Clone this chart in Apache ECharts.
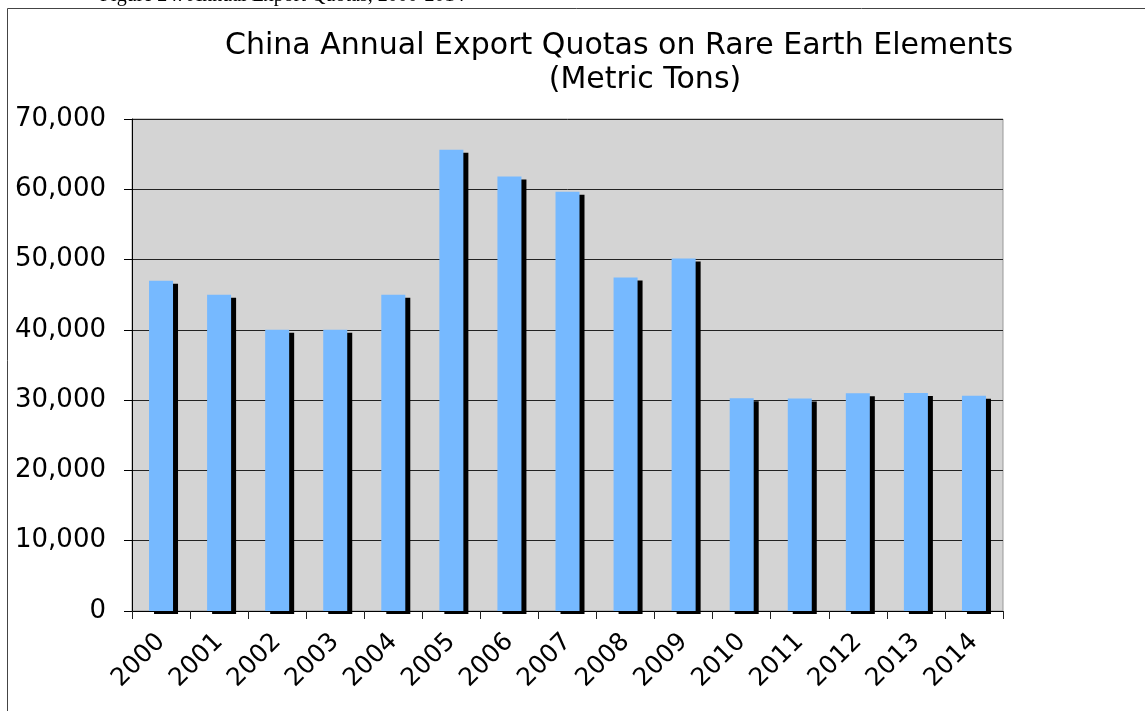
<!DOCTYPE html>
<html lang="en">
<head>
    <meta charset="UTF-8">
    <title>China Annual Export Quotas on Rare Earth Elements</title>
    <script src="https://cdn.jsdelivr.net/npm/echarts@6/dist/echarts.min.js"></script>
</head>
<style>
    html, body {
        margin: 0;
        padding: 0;
        background: #fff;
    }
    #main {
        width: 1145px;
        height: 711px;
    }
</style>
<body>
<div id="main"></div>
<script type="text/javascript">
    // data
    var years = ['2000', '2001', '2002', '2003', '2004', '2005', '2006', '2007',
        '2008', '2009', '2010', '2011', '2012', '2013', '2014'];
    var quotas = [47000, 45000, 40000, 40000, 45000, 65609, 61821, 59643,
        47449, 50145, 30259, 30246, 30996, 30999, 30610];
    var yTicks = [0, 10000, 20000, 30000, 40000, 50000, 60000, 70000];

    var myChart = echarts.init(document.getElementById('main'));

    var option = {
        animation: false,
        textStyle: { fontFamily: 'DejaVu Sans' },
        graphic: [
            // figure caption, cut off at the top of the page
            {
                type: 'text', left: 100, top: -14,
                style: { text: 'Figure 24: Annual Export Quotas, 2000-2014', font: '20px "Liberation Serif"', fill: '#000' }
            },
            // outer frame of the chart
            {
                type: 'rect', shape: { x: 7.5, y: 8.5, width: 1200, height: 800 },
                style: { fill: null, stroke: '#444', lineWidth: 1 }
            },
            {
                type: 'text', x: 619, y: 46,
                style: { text: 'China Annual Export Quotas on Rare Earth Elements', font: '30px "DejaVu Sans"', fill: '#000', align: 'center', verticalAlign: 'middle' }
            },
            {
                type: 'text', x: 645, y: 80,
                style: { text: '(Metric Tons)', font: '30px "DejaVu Sans"', fill: '#000', align: 'center', verticalAlign: 'middle' }
            }
        ],
        grid: {
            left: 132,
            right: 142,
            top: 119,
            bottom: 100,
            show: true,
            backgroundColor: '#d4d4d4',
            borderColor: '#999',
            borderWidth: 1
        },
        xAxis: {
            type: 'category',
            data: years,
            axisLine: { lineStyle: { color: '#000', width: 1 } },
            axisTick: { show: true, length: 8, lineStyle: { color: '#222' } },
            axisLabel: {
                rotate: 45,
                margin: 27,
                fontSize: 25,
                color: '#000',
                fontFamily: 'DejaVu Sans'
            }
        },
        yAxis: {
            type: 'value',
            min: yTicks[0],
            max: yTicks[yTicks.length - 1],
            interval: 10000,
            axisLine: { show: true, lineStyle: { color: '#000', width: 1 } },
            axisTick: { show: true, length: 8, lineStyle: { color: '#000' } },
            splitLine: { lineStyle: { color: '#222', width: 1 } },
            axisLabel: {
                margin: 26,
                fontSize: 26,
                color: '#000',
                fontFamily: 'DejaVu Sans',
                formatter: function (v) {
                    return v.toString().replace(/\B(?=(\d{3})+(?!\d))/g, ',');
                }
            }
        },
        series: [
            {
                type: 'bar',
                data: quotas,
                barWidth: 24,
                itemStyle: {
                    color: '#76b9ff',
                    shadowColor: '#000',
                    shadowBlur: 0,
                    shadowOffsetX: 5,
                    shadowOffsetY: 3
                }
            }
        ]
    };

    myChart.setOption(option);
</script>
</body>
</html>
